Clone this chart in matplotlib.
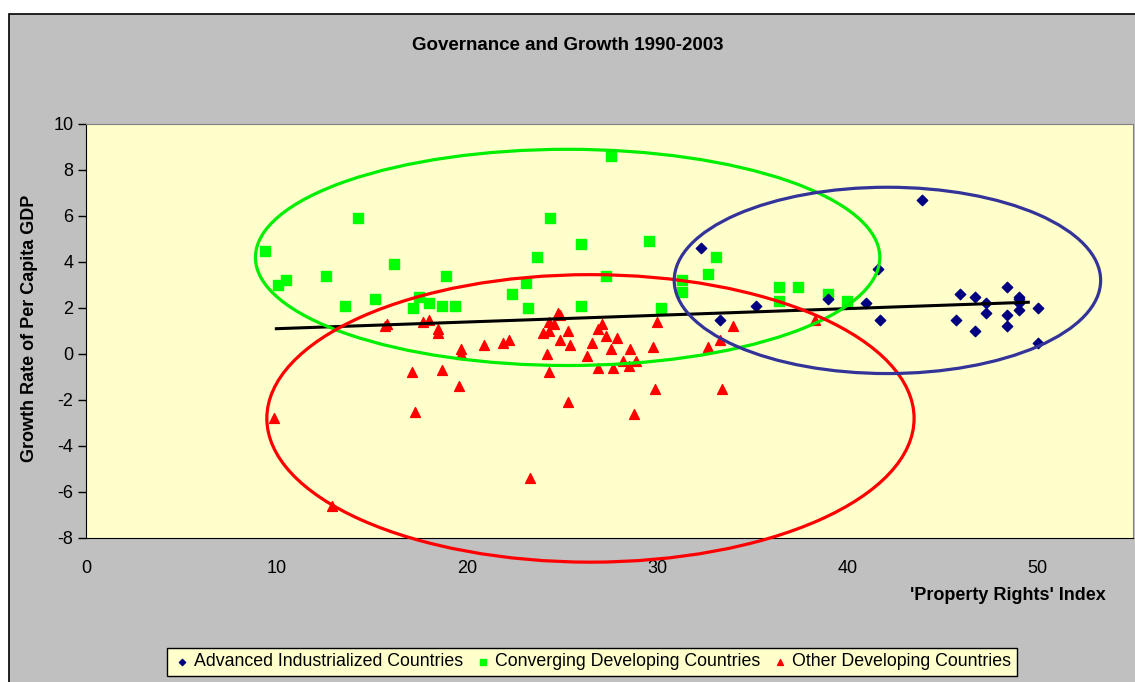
import matplotlib.pyplot as plt
from matplotlib.patches import Ellipse, Rectangle

plt.rcParams['font.family'] = ['Liberation Sans', 'DejaVu Sans']
plt.rcParams['axes.unicode_minus'] = False

# Advanced industrialized countries
adv_x = [32.3, 33.3, 35.2, 39.0, 41.0, 41.6, 41.7, 43.9, 45.7, 45.9, 46.7, 46.7,
         47.3, 47.3, 48.4, 48.4, 48.4, 49.0, 49.0, 49.0, 49.0, 50.0, 50.0]
adv_y = [4.6, 1.5, 2.1, 2.4, 2.2, 3.7, 1.5, 6.7, 1.5, 2.6, 2.5, 1.0,
         2.2, 1.8, 2.9, 1.7, 1.2, 2.5, 2.4, 2.2, 1.9, 2.0, 0.5]

# Converging developing countries
conv_x = [9.4, 10.1, 10.5, 12.6, 13.6, 14.3, 15.2, 16.2, 17.2, 17.5, 18.0, 18.7,
          18.9, 19.4, 22.4, 23.1, 23.2, 23.7, 24.4, 26.0, 26.0, 27.3, 27.6, 29.6,
          30.2, 31.3, 31.3, 32.7, 33.1, 36.4, 36.4, 37.4, 39.0, 40.0]
conv_y = [4.5, 3.0, 3.2, 3.4, 2.1, 5.9, 2.4, 3.9, 2.0, 2.5, 2.2, 2.1,
          3.4, 2.1, 2.6, 3.1, 2.0, 4.2, 5.9, 4.8, 2.1, 3.4, 8.6, 4.9,
          2.0, 3.2, 2.7, 3.5, 4.2, 2.9, 2.3, 2.9, 2.6, 2.3]

# Other developing countries
oth_x = [9.9, 12.9, 15.7, 15.8, 17.1, 17.3, 17.7, 18.0, 18.5, 18.5, 18.7, 19.6,
         19.7, 19.7, 20.9, 21.9, 22.2, 23.3, 24.0, 24.2, 24.3, 24.3, 24.3, 24.6,
         24.8, 24.9, 24.9, 25.3, 25.3, 25.4, 26.3, 26.6, 26.9, 26.9, 27.1, 27.3,
         27.6, 27.7, 27.9, 28.2, 28.5, 28.6, 28.8, 28.9, 29.8, 29.9, 30.0, 32.7,
         33.3, 33.4, 34.0, 38.3]
oth_y = [-2.8, -6.6, 1.2, 1.3, -0.8, -2.5, 1.4, 1.5, 1.1, 0.9, -0.7, -1.4,
         0.2, 0.0, 0.4, 0.5, 0.6, -5.4, 0.9, 0.0, 1.0, 1.4, -0.8, 1.3,
         1.8, 1.7, 0.6, 1.0, -2.1, 0.4, -0.1, 0.5, 1.1, -0.6, 1.3, 0.8,
         0.2, -0.6, 0.7, -0.3, -0.5, 0.2, -2.6, -0.3, 0.3, -1.5, 1.4, 0.3,
         0.6, -1.5, 1.2, 1.5]

# trend line end points
trend_x = [10.0, 49.5]
trend_y = [1.1, 2.25]

# hand drawn group outlines: center x, center y, width, height
groups = [(25.3, 4.2, 32.8, 9.4, '#00EE00'),
          (26.5, -2.8, 34.0, 12.5, '#FF0000'),
          (42.1, 3.2, 22.4, 8.1, '#333399')]

fig = plt.figure(figsize=(11.35, 6.82), dpi=100)
fig.patch.set_facecolor('white')
fig.patches.append(Rectangle((9 / 1135, -0.01), 1.0, 1 - 14 / 682 + 0.01,
                             transform=fig.transFigure, facecolor='#C0C0C0',
                             edgecolor='black', linewidth=1.2, zorder=-10))

ax = fig.add_axes([86 / 1135, 1 - 538 / 682, (1133 - 86) / 1135, (538 - 124) / 682])
ax.set_facecolor('#FFFFCC')

ax.scatter(adv_x, adv_y, marker='D', s=28, color='#000080', zorder=4,
           label='Advanced Industrialized Countries')
ax.scatter(conv_x, conv_y, marker='s', s=50, color='#00FF00', zorder=3,
           label='Converging Developing Countries')
ax.scatter(oth_x, oth_y, marker='^', s=50, color='#FF0000', zorder=3,
           label='Other Developing Countries')
ax.plot(trend_x, trend_y, color='black', linewidth=2.2, zorder=5)

for cx, cy, w, h, c in groups:
    ax.add_patch(Ellipse((cx, cy), w, h, fill=False, edgecolor=c,
                         linewidth=2.3, clip_on=False, zorder=6))

ax.set_xlim(0, 55)
ax.set_ylim(-8, 10)
ax.set_xticks([0, 10, 20, 30, 40, 50])
ax.set_yticks(range(-8, 11, 2))
ax.tick_params(axis='x', length=0, pad=16, labelsize=13)
ax.tick_params(axis='y', length=6, width=1, direction='out', labelsize=13, pad=3)
ax.spines['left'].set_color('black')
ax.spines['bottom'].set_color('black')
ax.spines['top'].set_color('#808080')
ax.spines['right'].set_color('#808080')

fig.text(0.5, 1 - 46 / 682, 'Governance and Growth 1990-2003', ha='center',
         va='center', fontsize=13.5, fontweight='bold')
fig.text(30 / 1135, 1 - 328 / 682, 'Growth Rate of Per Capita GDP', rotation=90,
         ha='center', va='center', fontsize=13, fontweight='bold')
fig.text(1106 / 1135, 1 - 595 / 682, "'Property Rights' Index", ha='right',
         va='center', fontsize=13, fontweight='bold')

leg = fig.legend(loc='center', bbox_to_anchor=(592 / 1135, 1 - 662 / 682), ncol=3,
                 fontsize=12.8, frameon=True, fancybox=False, handletextpad=0.2,
                 columnspacing=0.6, handlelength=1.0, borderpad=0.3,
                 markerscale=0.6)
leg.get_frame().set_facecolor('#FFFFCC')
leg.get_frame().set_edgecolor('black')
leg.get_frame().set_alpha(1)

plt.savefig('out.png', dpi=100)
